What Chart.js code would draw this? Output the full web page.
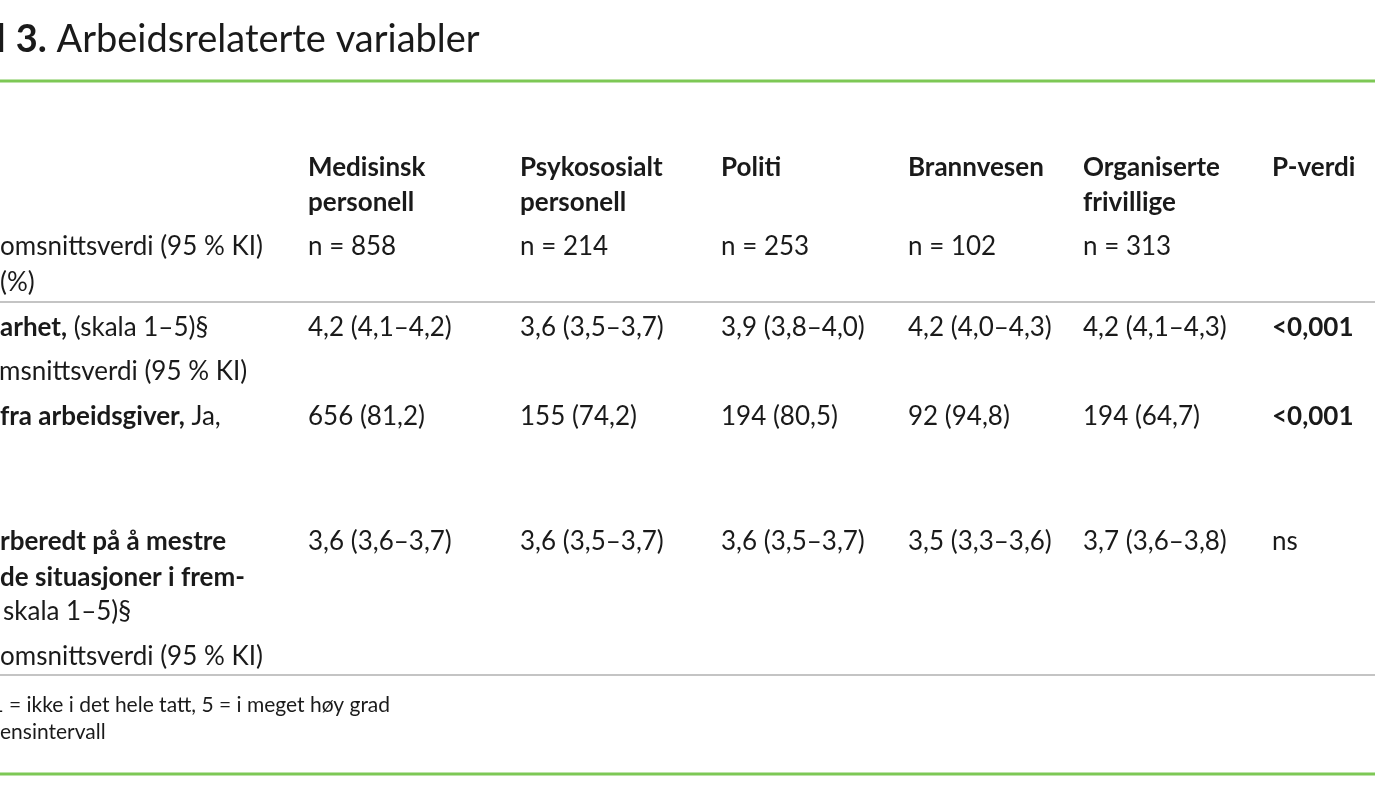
<!DOCTYPE html>
<html>
<head>
<meta charset="utf-8">
<script src="https://cdn.jsdelivr.net/npm/chart.js@4.4.1/dist/chart.umd.min.js"></script>
<style>
  html, body { margin: 0; padding: 0; background: #fff; }
  #wrap { width: 1400px; height: 786px; position: relative; }
</style>
</head>
<body>
<div id="wrap"><canvas id="tableChart"></canvas></div>
<script>
// column headers (groups), one entry per line
var groups = [
    ["Medisinsk", "personell"],
    ["Psykososialt", "personell"],
    ["Politi"],
    ["Brannvesen"],
    ["Organiserte", "frivillige"],
    ["P-verdi"]
];
var nCounts = [858, 214, 253, 102, 313];

// row 1: mean (95 % KI), skala 1-5
var r1Mean = [4.2, 3.6, 3.9, 4.2, 4.2];
var r1Low  = [4.1, 3.5, 3.8, 4.0, 4.1];
var r1High = [4.2, 3.7, 4.0, 4.3, 4.3];

// row 2: Ja, n (%)
var r2Count = [656, 155, 194, 92, 194];
var r2Pct   = [81.2, 74.2, 80.5, 94.8, 64.7];

// row 3: mean (95 % KI), skala 1-5
var r3Mean = [3.6, 3.6, 3.6, 3.5, 3.7];
var r3Low  = [3.6, 3.5, 3.5, 3.3, 3.6];
var r3High = [3.7, 3.7, 3.7, 3.6, 3.8];

var pValues = ["<0,001", "<0,001", "ns"];
var pBold = [true, true, false];

// left label text (the table is cut at the left edge)
var rowLabels = [
    [["omsnittsverdi (95 % KI)", false]],
    [["(%)", false]],
    [["arhet,", true], [" (skala 1\u20135)\u00a7", false]],
    [["msnittsverdi (95 % KI)", false]],
    [["fra arbeidsgiver,", true], [" Ja,", false]],
    [["rberedt p\u00e5 \u00e5 mestre", true]],
    [["de situasjoner i frem-", true]],
    [["skala 1\u20135)\u00a7", false]],
    [["omsnittsverdi (95 % KI)", false]]
];
var footnotes = ["1 = ikke i det hele tatt, 5 = i meget h\u00f8y grad", "ensintervall"];

// layout
var colX = [308, 520, 721, 908, 1083, 1272];
var labelX = [0, 0, 0, -1, 0, 0, 0, 3, 0];
var labelY = [255, 291, 336, 380, 425, 550, 586, 620, 665];
var headY = [176, 211];
var nY = 255;
var rowY = [336, 425, 550];
var FONT = "Lato, 'Open Sans', sans-serif";
var BODY = 26;
var NOTE = 21;

function fmt(v) { return v.toFixed(1).replace(".", ","); }

var cells = [
    r1Mean.map(function (m, i) { return fmt(m) + " (" + fmt(r1Low[i]) + "\u2013" + fmt(r1High[i]) + ")"; }),
    r2Count.map(function (c, i) { return c + " (" + fmt(r2Pct[i]) + ")"; }),
    r3Mean.map(function (m, i) { return fmt(m) + " (" + fmt(r3Low[i]) + "\u2013" + fmt(r3High[i]) + ")"; })
];

function segs(ctx, parts, x, y, size) {
    parts.forEach(function (p) {
        ctx.font = (p[1] ? "bold " : "") + size + "px " + FONT;
        ctx.fillText(p[0], x, y);
        x += ctx.measureText(p[0]).width;
    });
}

var tablePlugin = {
    id: "tableText",
    afterDraw: function (chart) {
        var ctx = chart.ctx, sx = chart.scales.x, sy = chart.scales.y;
        var X = function (v) { return sx.getPixelForValue(v); };
        var Y = function (v) { return sy.getPixelForValue(v); };
        ctx.save();
        ctx.fillStyle = "#1a1a1a";
        ctx.textBaseline = "alphabetic";
        ctx.textAlign = "left";

        // title
        segs(ctx, [["l ", false], ["3.", true], [" Arbeidsrelaterte variabler", false]], X(-3), Y(52), 38);

        // rules
        var rule = function (y, color, w) {
            ctx.strokeStyle = color; ctx.lineWidth = w;
            ctx.beginPath(); ctx.moveTo(X(0), Y(y)); ctx.lineTo(X(1375), Y(y)); ctx.stroke();
        };
        rule(81, "#7dc855", 3);
        rule(302, "#b0b0b0", 1.5);
        rule(675, "#b0b0b0", 1.5);
        rule(774, "#7dc855", 3);

        // headers
        groups.forEach(function (g, i) {
            g.forEach(function (line, k) {
                segs(ctx, [[line, true]], X(colX[i]), Y(headY[k]), BODY);
            });
        });
        nCounts.forEach(function (n, i) {
            segs(ctx, [["n = " + n, false]], X(colX[i]), Y(nY), BODY);
        });

        // left labels
        rowLabels.forEach(function (parts, i) {
            segs(ctx, parts, X(labelX[i]), Y(labelY[i]), BODY);
        });

        // cells
        cells.forEach(function (row, r) {
            row.forEach(function (txt, i) {
                segs(ctx, [[txt, false]], X(colX[i]), Y(rowY[r]), BODY);
            });
            segs(ctx, [[pValues[r], pBold[r]]], X(colX[5]), Y(rowY[r]), BODY);
        });

        // footnotes
        ctx.font = NOTE + "px " + FONT;
        var off = ctx.measureText("1 ").width;
        segs(ctx, [[footnotes[0], false]], X(9) - off, Y(712), NOTE);
        segs(ctx, [[footnotes[1], false]], X(0), Y(739), NOTE);
        ctx.restore();
    }
};

var ctx = document.getElementById("tableChart");
var myChart = new Chart(ctx, {
    type: 'scatter',
    data: { datasets: [{ data: [] }] },
    options: {
        responsive: true,
        maintainAspectRatio: false,
        animation: false,
        layout: { padding: 0 },
        plugins: { legend: { display: false }, tooltip: { enabled: false } },
        scales: {
            x: { type: 'linear', min: 0, max: 1400, display: false },
            y: { type: 'linear', min: 0, max: 786, reverse: true, display: false }
        }
    },
    plugins: [tablePlugin]
});
</script>
</body>
</html>
